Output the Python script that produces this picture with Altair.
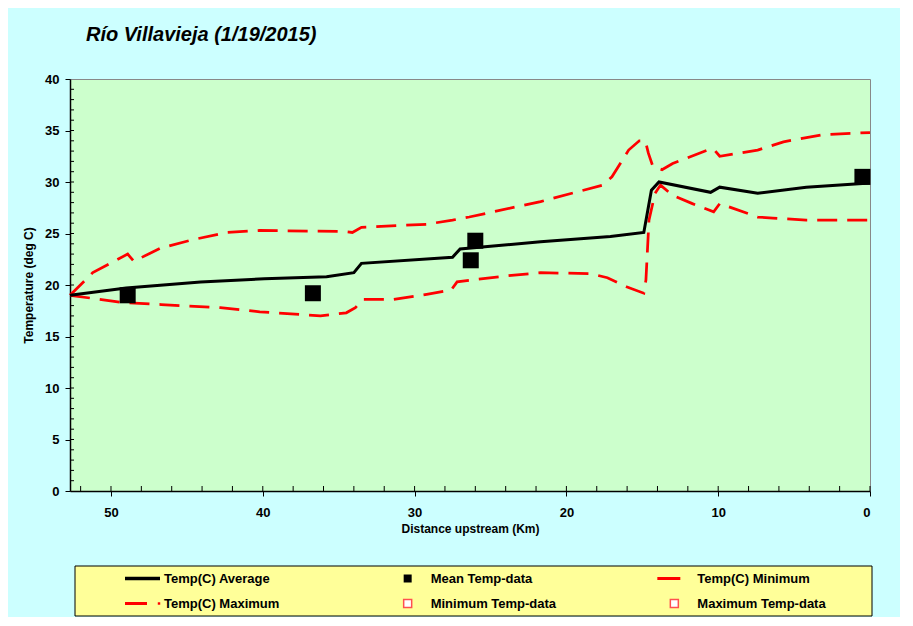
import altair as alt
import pandas as pd

# ---------------- data ----------------
avg_km = [52.7, 49.0, 44.1, 39.9, 35.8, 34.0, 33.5, 27.5, 27.0, 21.7, 17.1, 14.9, 14.4, 13.9, 10.5, 9.9, 7.4, 4.2, 0.0]
avg_t = [19.0, 19.7, 20.3, 20.6, 20.8, 21.2, 22.1, 22.7, 23.5, 24.2, 24.7, 25.1, 29.2, 30.0, 29.0, 29.5, 28.9, 29.5, 29.9]

max_km = [52.7, 51.2, 48.9, 48.5, 46.7, 44.6, 42.4, 40.2, 34.7, 34.1, 33.5, 29.2, 27.5, 26.4, 21.7, 17.6, 17.0,
          15.9, 15.2, 14.8, 14.6, 14.3, 13.7, 13.0, 10.7, 10.3, 9.9, 7.4, 5.7, 3.1, 0.0]
max_t = [19.0, 21.2, 23.0, 22.3, 23.6, 24.4, 25.1, 25.3, 25.2, 25.1, 25.6, 25.9, 26.3, 26.6, 28.1, 29.7, 30.5,
         33.1, 34.0, 34.0, 32.8, 31.5, 31.2, 31.8, 33.1, 33.2, 32.5, 33.1, 33.9, 34.6, 34.8]

min_km = [52.7, 49.2, 46.7, 42.8, 40.2, 36.2, 34.5, 33.9, 33.4, 31.4, 29.2, 27.6, 27.2, 23.9, 21.7, 18.4, 17.3,
          16.0, 14.9, 14.76, 14.56, 14.16, 13.8, 13.0, 11.7, 10.3, 9.9, 7.4, 6.4, 4.2, 0.0]
min_t = [19.0, 18.3, 18.1, 17.8, 17.4, 17.0, 17.3, 17.8, 18.6, 18.6, 19.1, 19.5, 20.3, 20.9, 21.2, 21.1, 20.7,
         19.8, 19.2, 20.5, 26.3, 28.9, 29.7, 28.7, 27.9, 27.1, 27.9, 26.6, 26.5, 26.3, 26.3]

mean_km = [48.9, 36.7, 26.3, 26.0, 0.5]
mean_t = [19.0, 19.2, 22.4, 24.3, 30.5]

x_major = [50, 40, 30, 20, 10, 0]
y_major = [0, 5, 10, 15, 20, 25, 30, 35, 40]
x_inner_ticks = [0, 2, 4, 6, 8, 10, 12, 14, 16, 18, 20, 22, 24, 26, 28, 30, 32, 34, 36, 38, 40, 42, 44, 46, 48, 50, 52]
y_inner_ticks = [1, 2, 3, 4, 5, 6, 7, 8, 9, 10, 11, 12, 13, 14, 15, 16, 17, 18, 19, 20, 21, 22, 23, 24, 25,
                 26, 27, 28, 29, 30, 31, 32, 33, 34, 35, 36, 37, 38, 39]

leg_labels = ["Temp(C) Average", "Mean Temp-data", "Temp(C) Minimum",
              "Temp(C) Maximum", "Minimum Temp-data", "Maximum Temp-data"]
leg_kind = ["avg_line", "mean_sq", "min_line", "max_line", "min_sq", "max_sq"]
leg_col = [0, 1, 2, 0, 1, 2]
leg_row = [0, 0, 0, 1, 1, 1]

# ---------------- styling ----------------
FONT = "Liberation Sans"
RED = "#FF0000"

x_scale = alt.Scale(domain=[52.7, 0], nice=False, zero=False)
y_scale = alt.Scale(domain=[0, 40], nice=False)

x_axis = alt.Axis(title="Distance upstream (Km)", values=x_major, format="d", grid=False,
                  tickSize=5, tickColor="black", domainColor="black", domainWidth=1.5,
                  labelFont=FONT, labelFontSize=13, labelFontWeight="bold", labelColor="black",
                  labelPadding=10, titleFont=FONT, titleFontSize=12, titleFontWeight="bold",
                  titleColor="black", titlePadding=4)
y_axis = alt.Axis(title="Temperature (deg C)", values=y_major, format="d", grid=False,
                  tickSize=5, tickColor="black", domainColor="black", domainWidth=1.5,
                  labelFont=FONT, labelFontSize=13, labelFontWeight="bold", labelColor="black",
                  labelPadding=6, titleFont=FONT, titleFontSize=12, titleFontWeight="bold",
                  titleColor="black", titlePadding=9)

X = alt.X("km:Q", scale=x_scale, axis=x_axis)
Y = alt.Y("t:Q", scale=y_scale, axis=y_axis)

df_avg = pd.DataFrame({"km": avg_km, "t": avg_t})
df_max = pd.DataFrame({"km": max_km, "t": max_t})
df_min = pd.DataFrame({"km": min_km, "t": min_t})
df_mean = pd.DataFrame({"km": mean_km, "t": mean_t})
df_xt = pd.DataFrame({"km": x_inner_ticks})
df_yt = pd.DataFrame({"t": y_inner_ticks})

ytick_layer = alt.Chart(df_yt).mark_rule(color="black", strokeWidth=1).encode(
    y=Y, x=alt.value(0), x2=alt.value(4))
xtick_layer = alt.Chart(df_xt).mark_rule(color="black", strokeWidth=1).encode(
    x=X, y=alt.value(412), y2=alt.value(407))

max_line = alt.Chart(df_max).mark_line(color=RED, strokeWidth=2.75, strokeDash=[20, 10]).encode(x=X, y=Y)
min_line = alt.Chart(df_min).mark_line(color=RED, strokeWidth=2.75, strokeDash=[20, 10]).encode(x=X, y=Y)
avg_line = alt.Chart(df_avg).mark_line(color="black", strokeWidth=3).encode(x=X, y=Y)
mean_pts = alt.Chart(df_mean).mark_square(color="black", size=256, opacity=1).encode(x=X, y=Y)

main = alt.layer(ytick_layer, xtick_layer, max_line, min_line, avg_line, mean_pts).properties(
    width=800, height=412,
    view=alt.ViewBackground(fill="#CCFFCC", stroke="#888888", strokeWidth=1),
    title=alt.TitleParams("Río Villavieja (1/19/2015)", anchor="start", frame="group", dx=16,
                          offset=28, font=FONT, fontSize=20, fontStyle="italic",
                          fontWeight="bold", color="black"),
)

# ---------------- legend panel ----------------
df_leg = pd.DataFrame({"label": leg_labels, "kind": leg_kind, "col": leg_col, "r": leg_row})
LX = alt.X("col:Q", scale=alt.Scale(domain=[0, 3], range=[5, 805], nice=False, zero=False), axis=None)
LX2 = alt.X2("col")
LY = alt.Y("r:O", scale=alt.Scale(type="point", padding=0.5), axis=None)

lbase = alt.Chart(df_leg)
l_box = alt.Chart(pd.DataFrame({"col": [0]})).mark_rect(
    fill="#FFFF99", stroke="black", strokeWidth=1).encode(
    x=alt.value(5), x2=alt.value(802), y=alt.value(0), y2=alt.value(50))
l_avg = lbase.transform_filter(alt.datum.kind == "avg_line").mark_rule(
    color="black", strokeWidth=3.5, xOffset=50, x2Offset=85).encode(x=LX, x2=LX2, y=LY)
l_min = lbase.transform_filter(alt.datum.kind == "min_line").mark_rule(
    color=RED, strokeWidth=3, xOffset=49, x2Offset=72).encode(x=LX, x2=LX2, y=LY)
l_max = lbase.transform_filter(alt.datum.kind == "max_line").mark_rule(
    color=RED, strokeWidth=3, xOffset=50, x2Offset=72).encode(x=LX, x2=LX2, y=LY)
l_max_dot = lbase.transform_filter(alt.datum.kind == "max_line").mark_square(
    color=RED, size=6, opacity=1, xOffset=84).encode(x=LX, y=LY)
l_mean = lbase.transform_filter(alt.datum.kind == "mean_sq").mark_square(
    color="black", size=64, opacity=1, xOffset=66).encode(x=LX, y=LY)
l_hollow = lbase.transform_filter((alt.datum.kind == "min_sq") | (alt.datum.kind == "max_sq")).mark_square(
    fill="white", stroke="#FF5050", strokeWidth=1.5, size=64, opacity=1, fillOpacity=1,
    xOffset=66).encode(x=LX, y=LY)
l_text = lbase.mark_text(align="left", baseline="middle", dx=89, font=FONT, fontSize=13,
                         fontWeight="bold", color="black").encode(x=LX, y=LY, text="label:N")

legend = alt.layer(l_box, l_avg, l_min, l_max, l_max_dot, l_mean, l_hollow, l_text).properties(
    width=802, height=50,
    view=alt.ViewBackground(fill=None, stroke=None),
)

chart = alt.vconcat(main, legend, spacing=30).properties(
    background="#CCFFFF",
    padding={"left": 14, "top": 16, "right": 23, "bottom": 0},
)

chart.save("out.html", embed_options={"renderer": "svg", "actions": False})
